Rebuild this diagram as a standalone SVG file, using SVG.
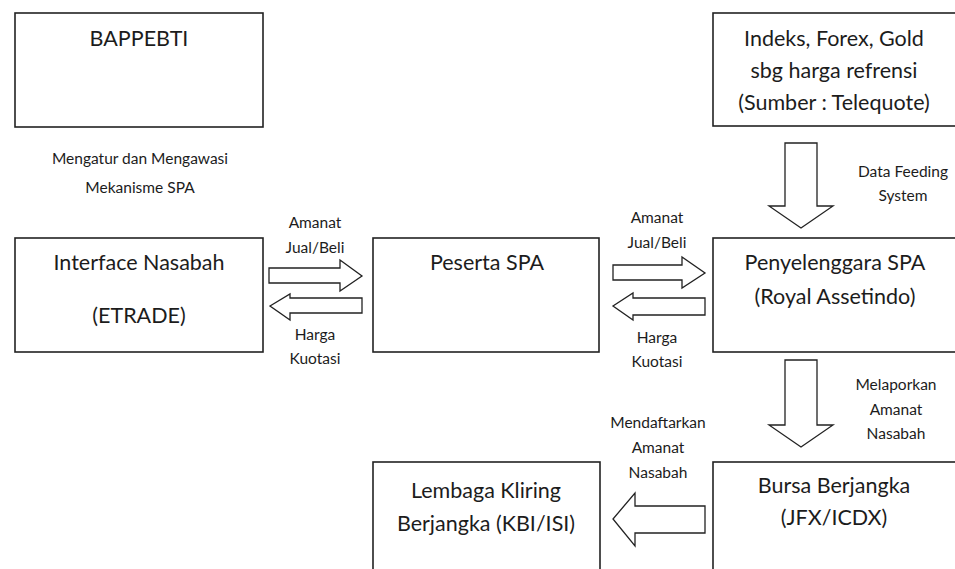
<svg xmlns="http://www.w3.org/2000/svg" width="955" height="569" viewBox="0 0 955 569">
<style>
.box{fill:#fff;stroke:#222;stroke-width:1.6}
.arr{fill:#fff;stroke:#222;stroke-width:1.3;stroke-linejoin:miter}
.t{font-family:Lato,"Open Sans",sans-serif;font-size:21.5px;fill:#1c1c1c;text-anchor:middle}
.s{font-family:Lato,"Open Sans",sans-serif;font-size:15.5px;fill:#1c1c1c;text-anchor:middle}
</style>
<rect width="955" height="569" fill="#fff"/>
<g id="bappebti"><rect class="box" x="15" y="13" width="248" height="114"/><text class="t" x="139" y="46">BAPPEBTI</text></g>
<g id="indeks"><rect class="box" x="713" y="13" width="250" height="113"/><text class="t" x="834" y="46">Indeks, Forex, Gold</text><text class="t" x="834" y="78">sbg harga refrensi</text><text class="t" x="834" y="110">(Sumber : Telequote)</text></g>
<g id="interface"><rect class="box" x="15" y="238" width="248" height="114"/><text class="t" x="139" y="270">Interface Nasabah</text><text class="t" x="139" y="323">(ETRADE)</text></g>
<g id="peserta"><rect class="box" x="373" y="238" width="226" height="114"/><text class="t" x="487" y="270">Peserta SPA</text></g>
<g id="penyelenggara"><rect class="box" x="713" y="238" width="250" height="114"/><text class="t" x="835" y="270">Penyelenggara SPA</text><text class="t" x="835" y="304">(Royal Assetindo)</text></g>
<g id="lembaga"><rect class="box" x="373" y="462" width="227" height="120"/><text class="t" x="486" y="498">Lembaga Kliring</text><text class="t" x="486" y="531">Berjangka (KBI/ISI)</text></g>
<g id="bursa"><rect class="box" x="713" y="462" width="250" height="120"/><text class="t" x="834" y="493">Bursa Berjangka</text><text class="t" x="834" y="525">(JFX/ICDX)</text></g>
<g id="connectors">
<polygon class="arr" points="269,268 340,268 340,260 362,276 340,291 340,283 269,283"/>
<polygon class="arr" points="362,298 290,298 290,294 270,306 290,320 290,313 362,313"/>
<polygon class="arr" points="613,265 682,265 682,257 705,273 682,288 682,280 613,280"/>
<polygon class="arr" points="705,298 633,298 633,293 613,306 633,320 633,315 705,315"/>
<polygon class="arr" points="785,143 817,143 817,206 833,206 801,228 769,206 785,206"/>
<polygon class="arr" points="785,360 817,360 817,425 833,425 801,447 769,425 785,425"/>
<polygon class="arr" points="705,506 635,506 635,493 613,519 635,546 635,533 705,533"/>
</g>
<g id="labels">
<text class="s" x="140" y="164">Mengatur dan Mengawasi</text>
<text class="s" x="140" y="193">Mekanisme SPA</text>
<text class="s" x="315" y="228">Amanat</text>
<text class="s" x="315" y="253">Jual/Beli</text>
<text class="s" x="315" y="340">Harga</text>
<text class="s" x="315" y="364">Kuotasi</text>
<text class="s" x="657" y="223">Amanat</text>
<text class="s" x="657" y="248">Jual/Beli</text>
<text class="s" x="657" y="343">Harga</text>
<text class="s" x="657" y="367">Kuotasi</text>
<text class="s" x="903" y="177">Data Feeding</text>
<text class="s" x="903" y="201">System</text>
<text class="s" x="896" y="390">Melaporkan</text>
<text class="s" x="896" y="415">Amanat</text>
<text class="s" x="896" y="439">Nasabah</text>
<text class="s" x="658" y="428">Mendaftarkan</text>
<text class="s" x="658" y="453">Amanat</text>
<text class="s" x="658" y="478">Nasabah</text>
</g>
</svg>
